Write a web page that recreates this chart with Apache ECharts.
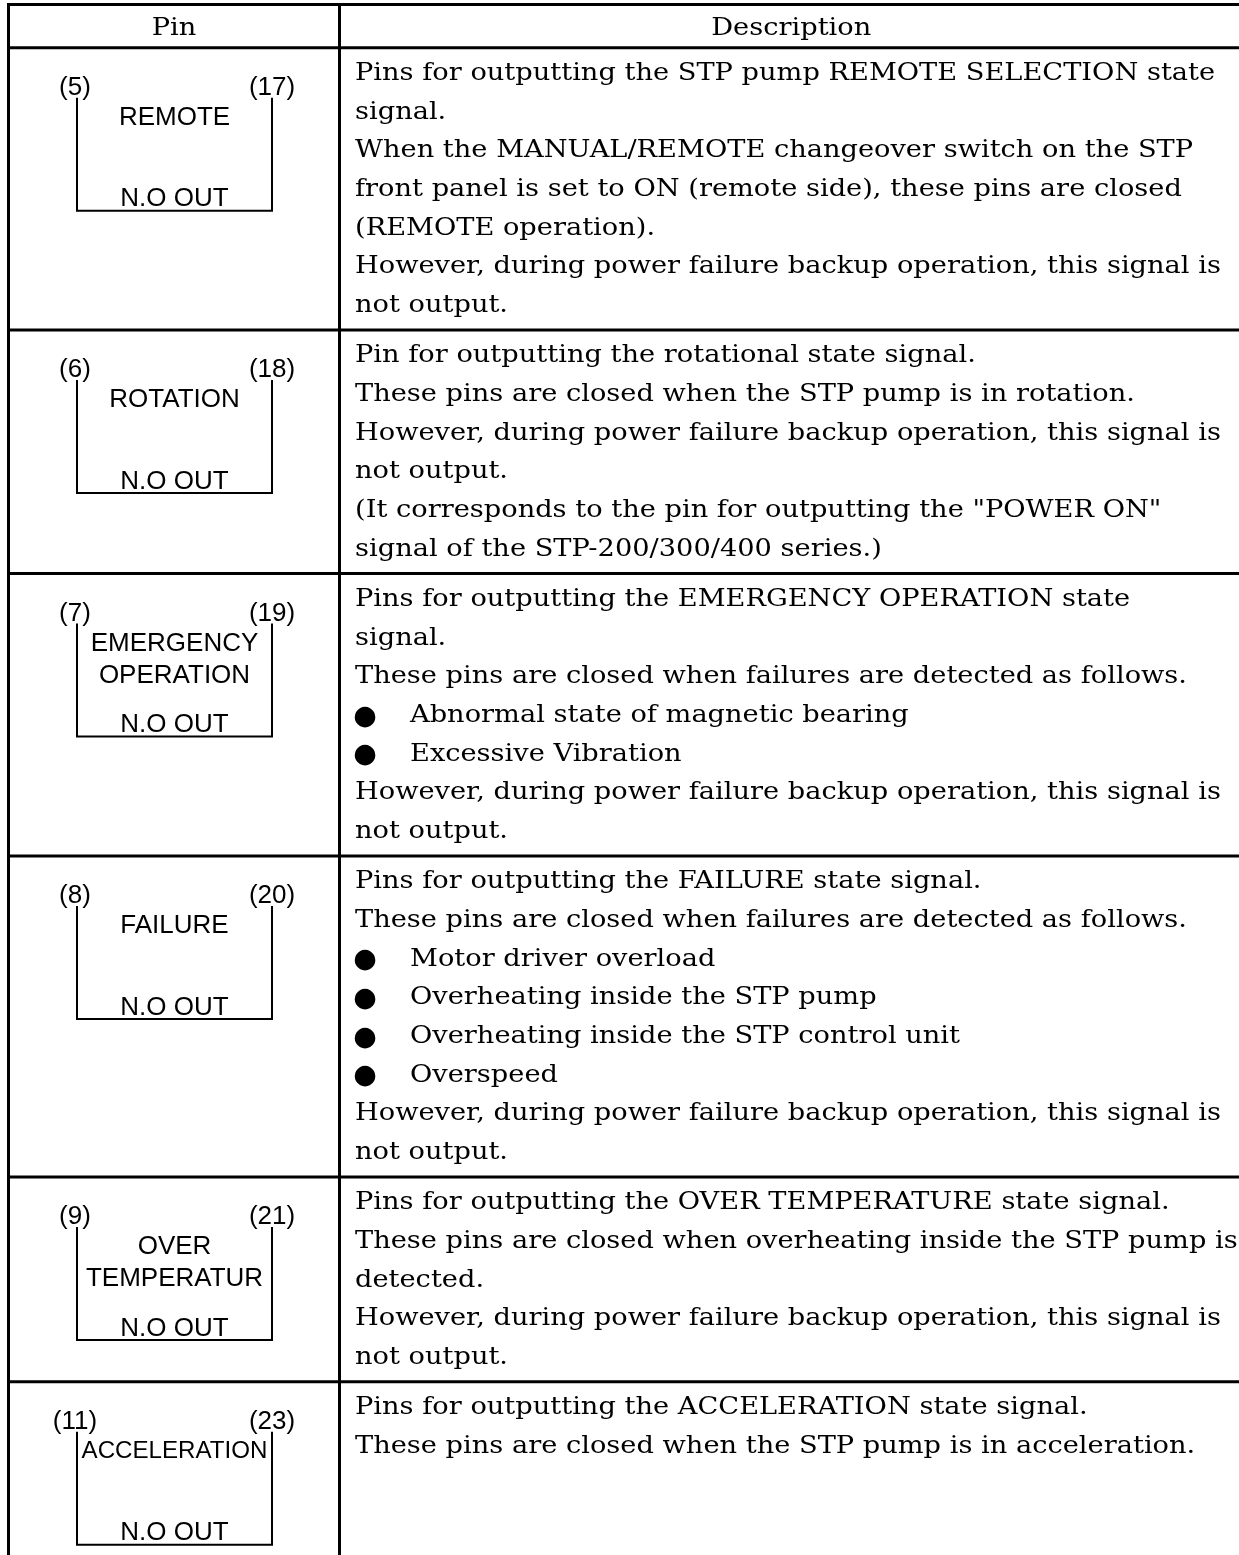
<!DOCTYPE html>
<html><head><meta charset="utf-8">
<style>html,body{margin:0;padding:0;background:#fff}#c{width:1239px;height:1555px}</style>
<script src="https://cdn.jsdelivr.net/npm/echarts@6/dist/echarts.min.js"></script>
</head><body><div id="c"></div>
<script>
// ---- content ----
const headers = ['Pin', 'Description'];
const pinLeft = ['(5)', '(6)', '(7)', '(8)', '(9)', '(11)'];
const pinRight = ['(17)', '(18)', '(19)', '(20)', '(21)', '(23)'];
const signalNames = [['REMOTE'], ['ROTATION'], ['EMERGENCY', 'OPERATION'], ['FAILURE'], ['OVER', 'TEMPERATUR'], ['ACCELERATION']];
const contactTypes = ['N.O OUT', 'N.O OUT', 'N.O OUT', 'N.O OUT', 'N.O OUT', 'N.O OUT'];
const descriptions = [
  ['Pins for outputting the STP pump REMOTE SELECTION state', 'signal.', 'When the MANUAL/REMOTE changeover switch on the STP', 'front panel is set to ON (remote side), these pins are closed', '(REMOTE operation).', 'However, during power failure backup operation, this signal is', 'not output.'],
  ['Pin for outputting the rotational state signal.', 'These pins are closed when the STP pump is in rotation.', 'However, during power failure backup operation, this signal is', 'not output.', '(It corresponds to the pin for outputting the "POWER ON"', 'signal of the STP-200/300/400 series.)'],
  ['Pins for outputting the EMERGENCY OPERATION state', 'signal.', 'These pins are closed when failures are detected as follows.', '●|Abnormal state of magnetic bearing', '●|Excessive Vibration', 'However, during power failure backup operation, this signal is', 'not output.'],
  ['Pins for outputting the FAILURE state signal.', 'These pins are closed when failures are detected as follows.', '●|Motor driver overload', '●|Overheating inside the STP pump', '●|Overheating inside the STP control unit', '●|Overspeed', 'However, during power failure backup operation, this signal is', 'not output.'],
  ['Pins for outputting the OVER TEMPERATURE state signal.', 'These pins are closed when overheating inside the STP pump is', 'detected.', 'However, during power failure backup operation, this signal is', 'not output.'],
  ['Pins for outputting the ACCELERATION state signal.', 'These pins are closed when the STP pump is in acceleration.']
];

// ---- layout / style ----
const W = 1239, H = 1555;
const XL = 8.5, XD = 339.5, XR = 1243;
const YT = 4.5, YH = 47.7;
const LH = 38.7, PAD = 11.4, MINROW = 205;
const SERIF = '24px "DejaVu Serif", serif';
const SERIF_SX = 1.135;
const SANS_FAMILY = '"Liberation Sans", Arial, sans-serif';
const SANS = '26px ' + SANS_FAMILY;
const BOX_L = 77, BOX_R = 272, NAME_MAX_W = 186;
const TXT_X = 355, BUL_X = 365, BUL_TXT_X = 410;

const measureCtx = document.createElement('canvas').getContext('2d');
function fitFont(t, size, maxW) {
  measureCtx.font = size + 'px ' + SANS_FAMILY;
  const w = measureCtx.measureText(t).width;
  const s = w > maxW ? size * maxW / w : size;
  return s.toFixed(2) + 'px ' + SANS_FAMILY;
}

function line(x1, y1, x2, y2, w) {
  return { type: 'line', silent: true, shape: { x1, y1, x2, y2 }, style: { stroke: '#000', lineWidth: w } };
}
function text(t, x, y, font, align, sx) {
  return { type: 'text', silent: true, x, y, scaleX: sx || 1, style: { text: t, font, fill: '#000', align: align, verticalAlign: 'middle', textAlign: align, textVerticalAlign: 'middle' } };
}

const els = [];
els.push(line(XL - 1.5, YT, XR, YT, 3));
els.push(line(XL - 1.5, YH, XR, YH, 3));
els.push(text(headers[0], (XL + XD) / 2, 29, SERIF, 'center', SERIF_SX));
els.push(text(headers[1], (XD + XR) / 2, 29, SERIF, 'center', SERIF_SX));

let rowTop = YH;
descriptions.forEach((lines, r) => {
  const h = Math.max(lines.length * LH + PAD, r === descriptions.length - 1 ? MINROW : 0);
  lines.forEach((s, i) => {
    const y = rowTop + 26 + i * LH;
    if (s.indexOf('●|') === 0) {
      els.push(text('●', BUL_X, y + 1, '27px "DejaVu Sans", sans-serif', 'center'));
      els.push(text(s.slice(2), BUL_TXT_X, y, SERIF, 'left', SERIF_SX));
    } else {
      els.push(text(s, TXT_X, y, SERIF, 'left', SERIF_SX));
    }
  });
  const bt = rowTop + 50, bb = rowTop + 163;
  els.push({ type: 'polyline', silent: true, shape: { points: [[BOX_L, bt], [BOX_L, bb], [BOX_R, bb], [BOX_R, bt]] }, style: { stroke: '#000', lineWidth: 2, fill: null } });
  els.push(text(pinLeft[r], BOX_L - 2, rowTop + 40, SANS, 'center'));
  els.push(text(pinRight[r], BOX_R, rowTop + 40, SANS, 'center'));
  signalNames[r].forEach((n, k) => {
    els.push(text(n, (BOX_L + BOX_R) / 2, rowTop + 70 + k * 32, fitFont(n, 26, NAME_MAX_W), 'center'));
  });
  els.push(text(contactTypes[r], (BOX_L + BOX_R) / 2, rowTop + 151.5, SANS, 'center'));
  rowTop += h;
  if (rowTop < H) els.push(line(XL - 1.5, rowTop, XR, rowTop, 3));
});
els.push(line(XL, YT - 1.5, XL, H + 10, 3));
els.push(line(XD, YT - 1.5, XD, H + 10, 3));

const chart = echarts.init(document.getElementById('c'), null, { renderer: 'canvas', width: W, height: H });
chart.setOption({ backgroundColor: '#fff', animation: false, graphic: { elements: els } });
</script></body></html>
